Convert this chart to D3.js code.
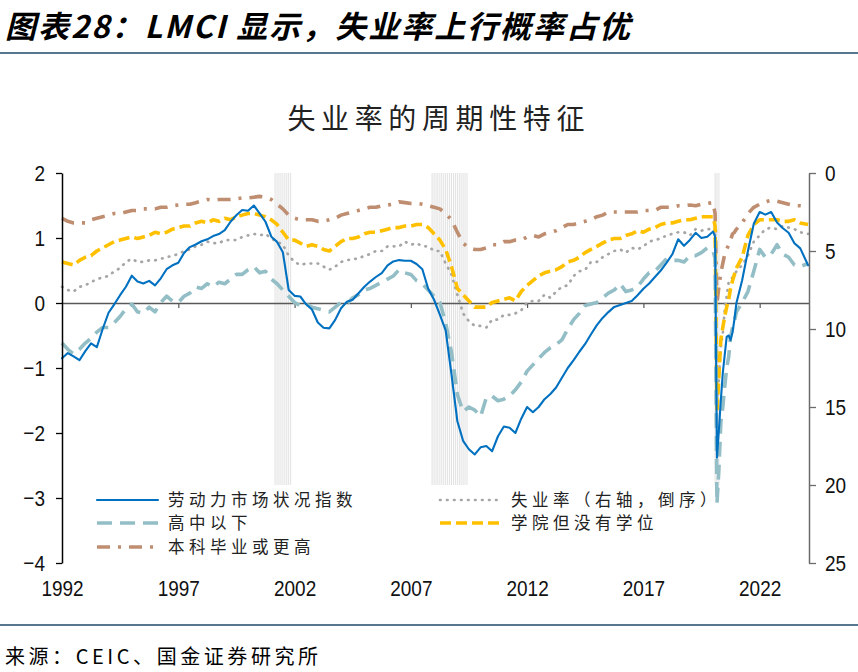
<!DOCTYPE html>
<html><head><meta charset="utf-8">
<script src="https://cdn.jsdelivr.net/npm/d3@7"></script>
<style>
body{margin:0;background:#fff;}
svg{display:block;}
</style></head>
<body><svg id="c" width="858" height="672"></svg>
<script>
// ---------------- data ----------------
const dates = [
"1992-01","1992-04","1992-07","1992-10","1993-01","1993-04","1993-07","1993-10",
"1994-01","1994-04","1994-07","1994-10","1995-01","1995-04","1995-07","1995-10",
"1996-01","1996-04","1996-07","1996-10","1997-01","1997-04","1997-07","1997-10",
"1998-01","1998-04","1998-07","1998-10","1999-01","1999-04","1999-07","1999-10",
"2000-01","2000-04","2000-07","2000-10","2001-01","2001-04","2001-07","2001-10",
"2002-01","2002-04","2002-07","2002-10","2003-01","2003-04","2003-07","2003-10",
"2004-01","2004-04","2004-07","2004-10","2005-01","2005-04","2005-07","2005-10",
"2006-01","2006-04","2006-07","2006-10","2007-01","2007-04","2007-07","2007-10",
"2008-01","2008-04","2008-07","2008-10","2009-01","2009-04","2009-07","2009-10",
"2010-01","2010-04","2010-07","2010-10","2011-01","2011-04","2011-07","2011-10",
"2012-01","2012-04","2012-07","2012-10","2013-01","2013-04","2013-07","2013-10",
"2014-01","2014-04","2014-07","2014-10","2015-01","2015-04","2015-07","2015-10",
"2016-01","2016-04","2016-07","2016-10","2017-01","2017-04","2017-07","2017-10",
"2018-01","2018-04","2018-07","2018-10","2019-01","2019-04","2019-07","2019-10",
"2020-01","2020-02","2020-03","2020-04","2020-05","2020-06","2020-07","2020-08","2020-09","2020-10","2020-11","2020-12",
"2021-01","2021-04","2021-07","2021-10","2022-01","2022-04","2022-07","2022-10",
"2023-01","2023-04","2023-07","2023-10","2024-02"];

// 劳动力市场状况指数 (left axis)
const lmci = [
-0.85,-0.77,-0.82,-0.88, -0.74,-0.62,-0.68,-0.40,
-0.15,-0.02,0.12,0.25, 0.42,0.33,0.30,0.34,
0.27,0.38,0.52,0.58, 0.62,0.77,0.86,0.90,
0.95,0.98,1.03,1.06, 1.12,1.25,1.35,1.43,
1.42,1.50,1.38,1.25, 1.02,0.94,0.78,0.20,
0.11,0.10,-0.02,-0.10, -0.30,-0.38,-0.39,-0.26,
-0.08,0.02,0.05,0.15, 0.25,0.33,0.40,0.46,
0.58,0.64,0.66,0.65, 0.65,0.60,0.52,0.22,
0.05,-0.18,-0.42,-1.10, -1.82,-2.12,-2.25,-2.33,
-2.22,-2.20,-2.28,-2.05, -1.90,-1.92,-2.00,-1.78,
-1.60,-1.68,-1.60,-1.48, -1.40,-1.30,-1.15,-1.00,
-0.88,-0.75,-0.63,-0.48, -0.34,-0.23,-0.14,-0.06,
-0.03,0.00,0.03,0.12, 0.22,0.30,0.40,0.50,
0.62,0.75,0.98,0.88, 0.97,1.08,1.00,1.02,
1.10,1.02,-2.38,-1.95,-1.50,-1.08,-0.80,-0.52,-0.50,-0.57,-0.45,-0.25,
0.00,0.35,0.80,1.22, 1.40,1.36,1.40,1.24,
1.15,1.08,0.92,0.84, 0.58];

// 失业率 (right axis, inverted)
const unemp = [
7.3,7.5,7.6,7.3, 7.2,7.0,6.8,6.7,
6.6,6.3,6.1,5.7, 5.5,5.7,5.7,5.6,
5.6,5.5,5.4,5.3, 5.2,5.0,4.9,4.7,
4.6,4.4,4.5,4.5, 4.3,4.3,4.3,4.1,
4.0,3.9,4.0,3.9, 4.2,4.4,4.6,5.3,
5.7,5.9,5.8,5.8, 5.8,6.0,6.2,6.0,
5.7,5.6,5.5,5.5, 5.3,5.2,5.0,5.0,
4.7,4.7,4.7,4.4, 4.6,4.5,4.7,4.7,
5.0,5.0,5.8,6.5, 7.8,9.0,9.5,9.8,
9.8,9.9,9.4,9.4, 9.1,9.1,9.0,8.8,
8.3,8.2,8.2,7.8, 8.0,7.6,7.3,7.2,
6.6,6.3,6.2,5.7, 5.7,5.4,5.2,5.0,
4.9,5.1,4.8,4.9, 4.7,4.4,4.3,4.2,
4.0,3.9,3.8,3.8, 4.0,3.6,3.7,3.6,
3.6,3.5,14.7,13.2,11.1,10.3,8.8,7.9,7.0,6.8,6.7,6.5,
6.3,5.9,5.3,4.4, 4.0,3.6,3.5,3.6,
3.4,3.5,3.6,3.8, 3.9];

// 高中以下
const lessHS = [
10.9,11.3,11.6,11.3, 10.9,10.6,10.2,9.9,
9.9,9.6,9.2,8.7, 8.4,8.9,9.0,8.6,
8.9,8.3,7.9,8.2, 8.3,7.9,7.7,7.3,
7.4,7.1,7.3,7.0, 7.1,6.8,6.5,6.5,
6.2,6.0,6.4,6.3, 6.8,7.1,7.5,7.9,
8.3,8.5,8.4,8.6, 8.7,8.8,8.9,8.6,
8.3,8.4,8.0,7.8, 7.5,7.4,7.2,7.0,
6.8,6.6,6.2,6.4, 6.5,6.9,7.1,7.5,
7.9,8.3,9.6,11.5, 14.2,15.3,15.0,15.2,
15.6,14.4,14.3,14.6, 14.5,14.3,13.9,13.4,
12.7,12.3,11.9,11.5, 11.2,11.0,10.7,10.0,
9.4,9.0,8.5,8.4, 8.3,8.0,7.7,7.5,
7.1,7.6,7.5,7.3, 6.8,6.4,6.3,5.9,
5.5,5.6,5.6,5.7, 5.3,5.3,5.1,4.8,
5.0,5.5,21.2,19.0,16.0,15.0,13.7,12.5,11.8,10.5,9.9,9.5,
8.9,8.3,7.6,6.3, 4.9,5.4,5.2,4.6,
5.2,5.4,5.9,6.0, 5.8];

// 学院但没有学位
const someCollege = [
5.7,5.8,5.9,5.6, 5.4,5.3,5.0,4.8,
4.6,4.4,4.3,4.2, 4.1,4.2,4.1,4.0,
3.8,3.9,3.8,3.6, 3.5,3.4,3.4,3.2,
3.1,3.2,3.0,3.1, 2.9,3.0,2.8,2.7,
2.6,2.6,2.7,2.8, 3.0,3.3,3.8,4.3,
4.3,4.5,4.7,4.6, 4.7,4.9,5.0,4.7,
4.4,4.2,4.2,4.1, 3.9,3.8,3.8,3.7,
3.6,3.5,3.5,3.4, 3.4,3.3,3.3,3.5,
3.9,4.3,4.9,6.0, 7.4,7.8,8.2,8.6,
8.6,8.6,8.3,8.2, 8.1,8.0,8.2,7.6,
7.2,6.9,6.6,6.4, 6.3,6.2,6.0,5.7,
5.6,5.4,5.1,4.9, 4.7,4.5,4.3,4.2,
4.2,4.0,3.9,3.7, 3.8,3.6,3.5,3.3,
3.2,3.2,3.1,3.0, 3.0,2.9,2.8,2.8,
2.8,3.4,15.3,13.0,10.7,9.9,9.2,8.6,8.1,7.4,6.9,6.5,
6.1,5.4,4.0,3.3, 3.0,3.0,3.0,3.0,
3.1,3.1,3.0,3.2, 3.3];

// 本科毕业或更高
const bachelor = [
2.9,3.1,3.2,3.2, 3.2,3.0,2.9,2.8,
2.7,2.6,2.6,2.5, 2.4,2.4,2.3,2.3,
2.3,2.2,2.2,2.1, 2.05,2.0,2.0,1.9,
1.8,1.7,1.75,1.7, 1.7,1.7,1.65,1.6,
1.6,1.55,1.5,1.55, 1.7,2.0,2.3,2.7,
2.9,3.0,3.0,3.0, 3.1,3.1,3.0,2.9,
2.7,2.6,2.5,2.4, 2.3,2.2,2.2,2.1,
2.05,2.0,1.85,1.9, 1.95,1.95,2.0,2.1,
2.2,2.3,2.6,3.0, 3.8,4.5,4.8,4.9,
4.9,4.8,4.6,4.6, 4.4,4.4,4.3,4.3,
4.1,4.0,4.1,3.9, 3.8,3.7,3.5,3.3,
3.3,3.2,3.1,3.0, 2.8,2.7,2.5,2.5,
2.5,2.5,2.5,2.5, 2.4,2.4,2.4,2.2,
2.2,2.2,2.1,2.1, 2.05,2.1,2.0,1.95,
1.9,2.6,8.3,7.3,6.4,5.8,5.2,4.9,4.6,4.3,3.9,3.8,
3.6,3.2,2.6,2.2, 2.0,1.85,1.75,1.8,
1.9,2.0,2.1,2.1, 2.15];

const leftTicks = [-4,-3,-2,-1,0,1,2];
const rightTicks = [0,5,10,15,20,25];
const yearTicks = [1992,1997,2002,2007,2012,2017,2022];
const recessions = [["2001-03","2001-11"],["2007-12","2009-06"],["2020-02","2020-04"]];
const seriesNames = ["劳动力市场状况指数","高中以下","本科毕业或更高","失业率（右轴，倒序）","学院但没有学位"];
const mainTitle = "图表28：LMCI 显示，失业率上行概率占优";
const chartTitle = "失业率的周期性特征";
const sourceText = "来源：CEIC、国金证券研究所";

// ---------------- drawing ----------------
const parse = d3.timeParse("%Y-%m");
const dt = dates.map(parse);
const svg = d3.select("#c");
const CJK = "'Noto Sans CJK SC', 'Noto Sans', sans-serif";
const NUM = "'Liberation Sans', Arial, sans-serif";

const x = d3.scaleTime().domain([new Date(1992,0,1), new Date(2024,1,15)]).range([62,809]);
const yL = d3.scaleLinear().domain([-4,2]).range([563,173]);
const yR = d3.scaleLinear().domain([0,25]).range([173,563]);

// header / footer
svg.append("text").attr("x",5).attr("y",38).text(mainTitle)
  .attr("font-family",CJK).attr("font-size",31).attr("font-weight","bold").attr("font-style","italic")
  .attr("fill","#000").attr("textLength",625).attr("lengthAdjust","spacing");
svg.append("line").attr("x1",0).attr("x2",858).attr("y1",53).attr("y2",53)
  .attr("stroke","#1f4a68").attr("stroke-width",1.6);
svg.append("line").attr("x1",0).attr("x2",858).attr("y1",625).attr("y2",625)
  .attr("stroke","#1f4a68").attr("stroke-width",1.6);
svg.append("text").attr("x",5).attr("y",664).text(sourceText)
  .attr("font-family",CJK).attr("font-size",20).attr("fill","#000")
  .attr("textLength",313).attr("lengthAdjust","spacing");
svg.append("text").attr("x",436).attr("y",129).attr("text-anchor","middle").text(chartTitle)
  .attr("font-family",CJK).attr("font-size",28).attr("fill","#222")
  .attr("textLength",297).attr("lengthAdjust","spacing");

// recession shading (monthly thin lines)
const recMonths = [];
recessions.forEach(([a,b]) => {
  d3.timeMonth.range(parse(a), d3.timeMonth.offset(parse(b),1)).forEach(m => recMonths.push(m));
});
svg.append("g").selectAll("line").data(recMonths).join("line")
  .attr("x1",d=>x(d)).attr("x2",d=>x(d)).attr("y1",yL(2)).attr("y2",485)
  .attr("stroke","#dedede").attr("stroke-width",0.9);

// zero line with year ticks
const zeroAxis = svg.append("g").attr("transform",`translate(0,${yL(0)})`)
  .call(d3.axisBottom(x).tickValues(yearTicks.slice(1).map(y=>new Date(y,0,1)))
        .tickSize(5).tickSizeOuter(0).tickFormat(""));
zeroAxis.select(".domain").attr("stroke","#595959").attr("stroke-width",1.5);
zeroAxis.selectAll(".tick line").attr("stroke","#595959").attr("stroke-width",1.2);

// x labels at bottom
const xLab = svg.append("g").attr("transform",`translate(0,563)`)
  .call(d3.axisBottom(x).tickValues(yearTicks.map(y=>new Date(y,0,1)))
        .tickSize(0).tickPadding(14.4).tickFormat(d3.timeFormat("%Y")));
xLab.select(".domain").remove();
xLab.selectAll("text").attr("font-family",NUM).attr("font-size",19).attr("fill","#111")
  .attr("transform","scale(1,1.2)");

// series
const mk = (vals) => dt.map((d,i)=>({d, v: vals[i]}));
const lineR = d3.line().x(p=>x(p.d)).y(p=>yR(p.v));
const lineL = d3.line().x(p=>x(p.d)).y(p=>yL(p.v));

const styles = {
  blue:   {stroke:"#0070C0", w:2.1, dash:null, cap:"round"},
  lhs:    {stroke:"#93BEC6", w:3.6, dash:"15,8", cap:"butt"},
  bach:   {stroke:"#BF8D70", w:3.6, dash:"13,8,3,8", cap:"butt"},
  unemp:  {stroke:"#A6A6A6", w:2.7, dash:"0.6,6.4", cap:"round"},
  coll:   {stroke:"#FFC000", w:3.6, dash:"11,5", cap:"butt"}
};
function draw(data, gen, st){
  svg.append("path").datum(data).attr("d",gen).attr("fill","none")
    .attr("stroke",st.stroke).attr("stroke-width",st.w)
    .attr("stroke-dasharray",st.dash).attr("stroke-linecap",st.cap)
    .attr("stroke-linejoin","round");
}
draw(mk(bachelor), lineR, styles.bach);
draw(mk(unemp), lineR, styles.unemp);
draw(mk(someCollege), lineR, styles.coll);
draw(mk(lessHS), lineR, styles.lhs);
draw(mk(lmci), lineL, styles.blue);

// left axis
const axL = svg.append("g").attr("transform","translate(62,0)")
  .call(d3.axisLeft(yL).tickValues(leftTicks).tickSize(6).tickSizeOuter(0).tickPadding(11)
        .tickFormat(d=> d<0 ? "\u2212"+Math.abs(d) : d));
axL.select(".domain").attr("stroke","#000").attr("stroke-width",1.5);
axL.selectAll(".tick line").attr("stroke","#000").attr("stroke-width",1.3);
axL.selectAll("text").attr("font-family",NUM).attr("font-size",19).attr("fill","#111")
  .attr("transform","scale(1,1.2)");

// right axis
const axR = svg.append("g").attr("transform","translate(809,0)")
  .call(d3.axisRight(yR).tickValues(rightTicks).tickSize(7).tickSizeOuter(0).tickPadding(9));
axR.select(".domain").attr("stroke","#6b6b6b").attr("stroke-width",1.5);
axR.selectAll(".tick line").attr("stroke","#6b6b6b").attr("stroke-width",1.3);
axR.selectAll("text").attr("font-family",NUM).attr("font-size",19).attr("fill","#111")
  .attr("transform","scale(1,1.2)");

// legend
const legendItems = [
  {name:seriesNames[0], st:styles.blue,  x:97,  y:500},
  {name:seriesNames[1], st:styles.lhs,   x:97,  y:523},
  {name:seriesNames[2], st:styles.bach,  x:97,  y:547},
  {name:seriesNames[3], st:styles.unemp, x:440, y:500},
  {name:seriesNames[4], st:styles.coll,  x:440, y:523}
];
const lg = svg.append("g").selectAll("g").data(legendItems).join("g")
  .attr("transform",d=>`translate(${d.x},${d.y})`);
lg.append("line").attr("x1",0).attr("x2",61).attr("y1",0).attr("y2",0)
  .attr("stroke",d=>d.st.stroke).attr("stroke-width",d=>d.st.w)
  .attr("stroke-dasharray",d=>d.st.dash).attr("stroke-linecap",d=>d.st.cap);
lg.append("text").attr("x",71).attr("dy","0.36em").text(d=>d.name)
  .attr("font-family",CJK).attr("font-size",16.5).attr("fill","#222")
  .attr("letter-spacing",4.5);
</script>
</body></html>
